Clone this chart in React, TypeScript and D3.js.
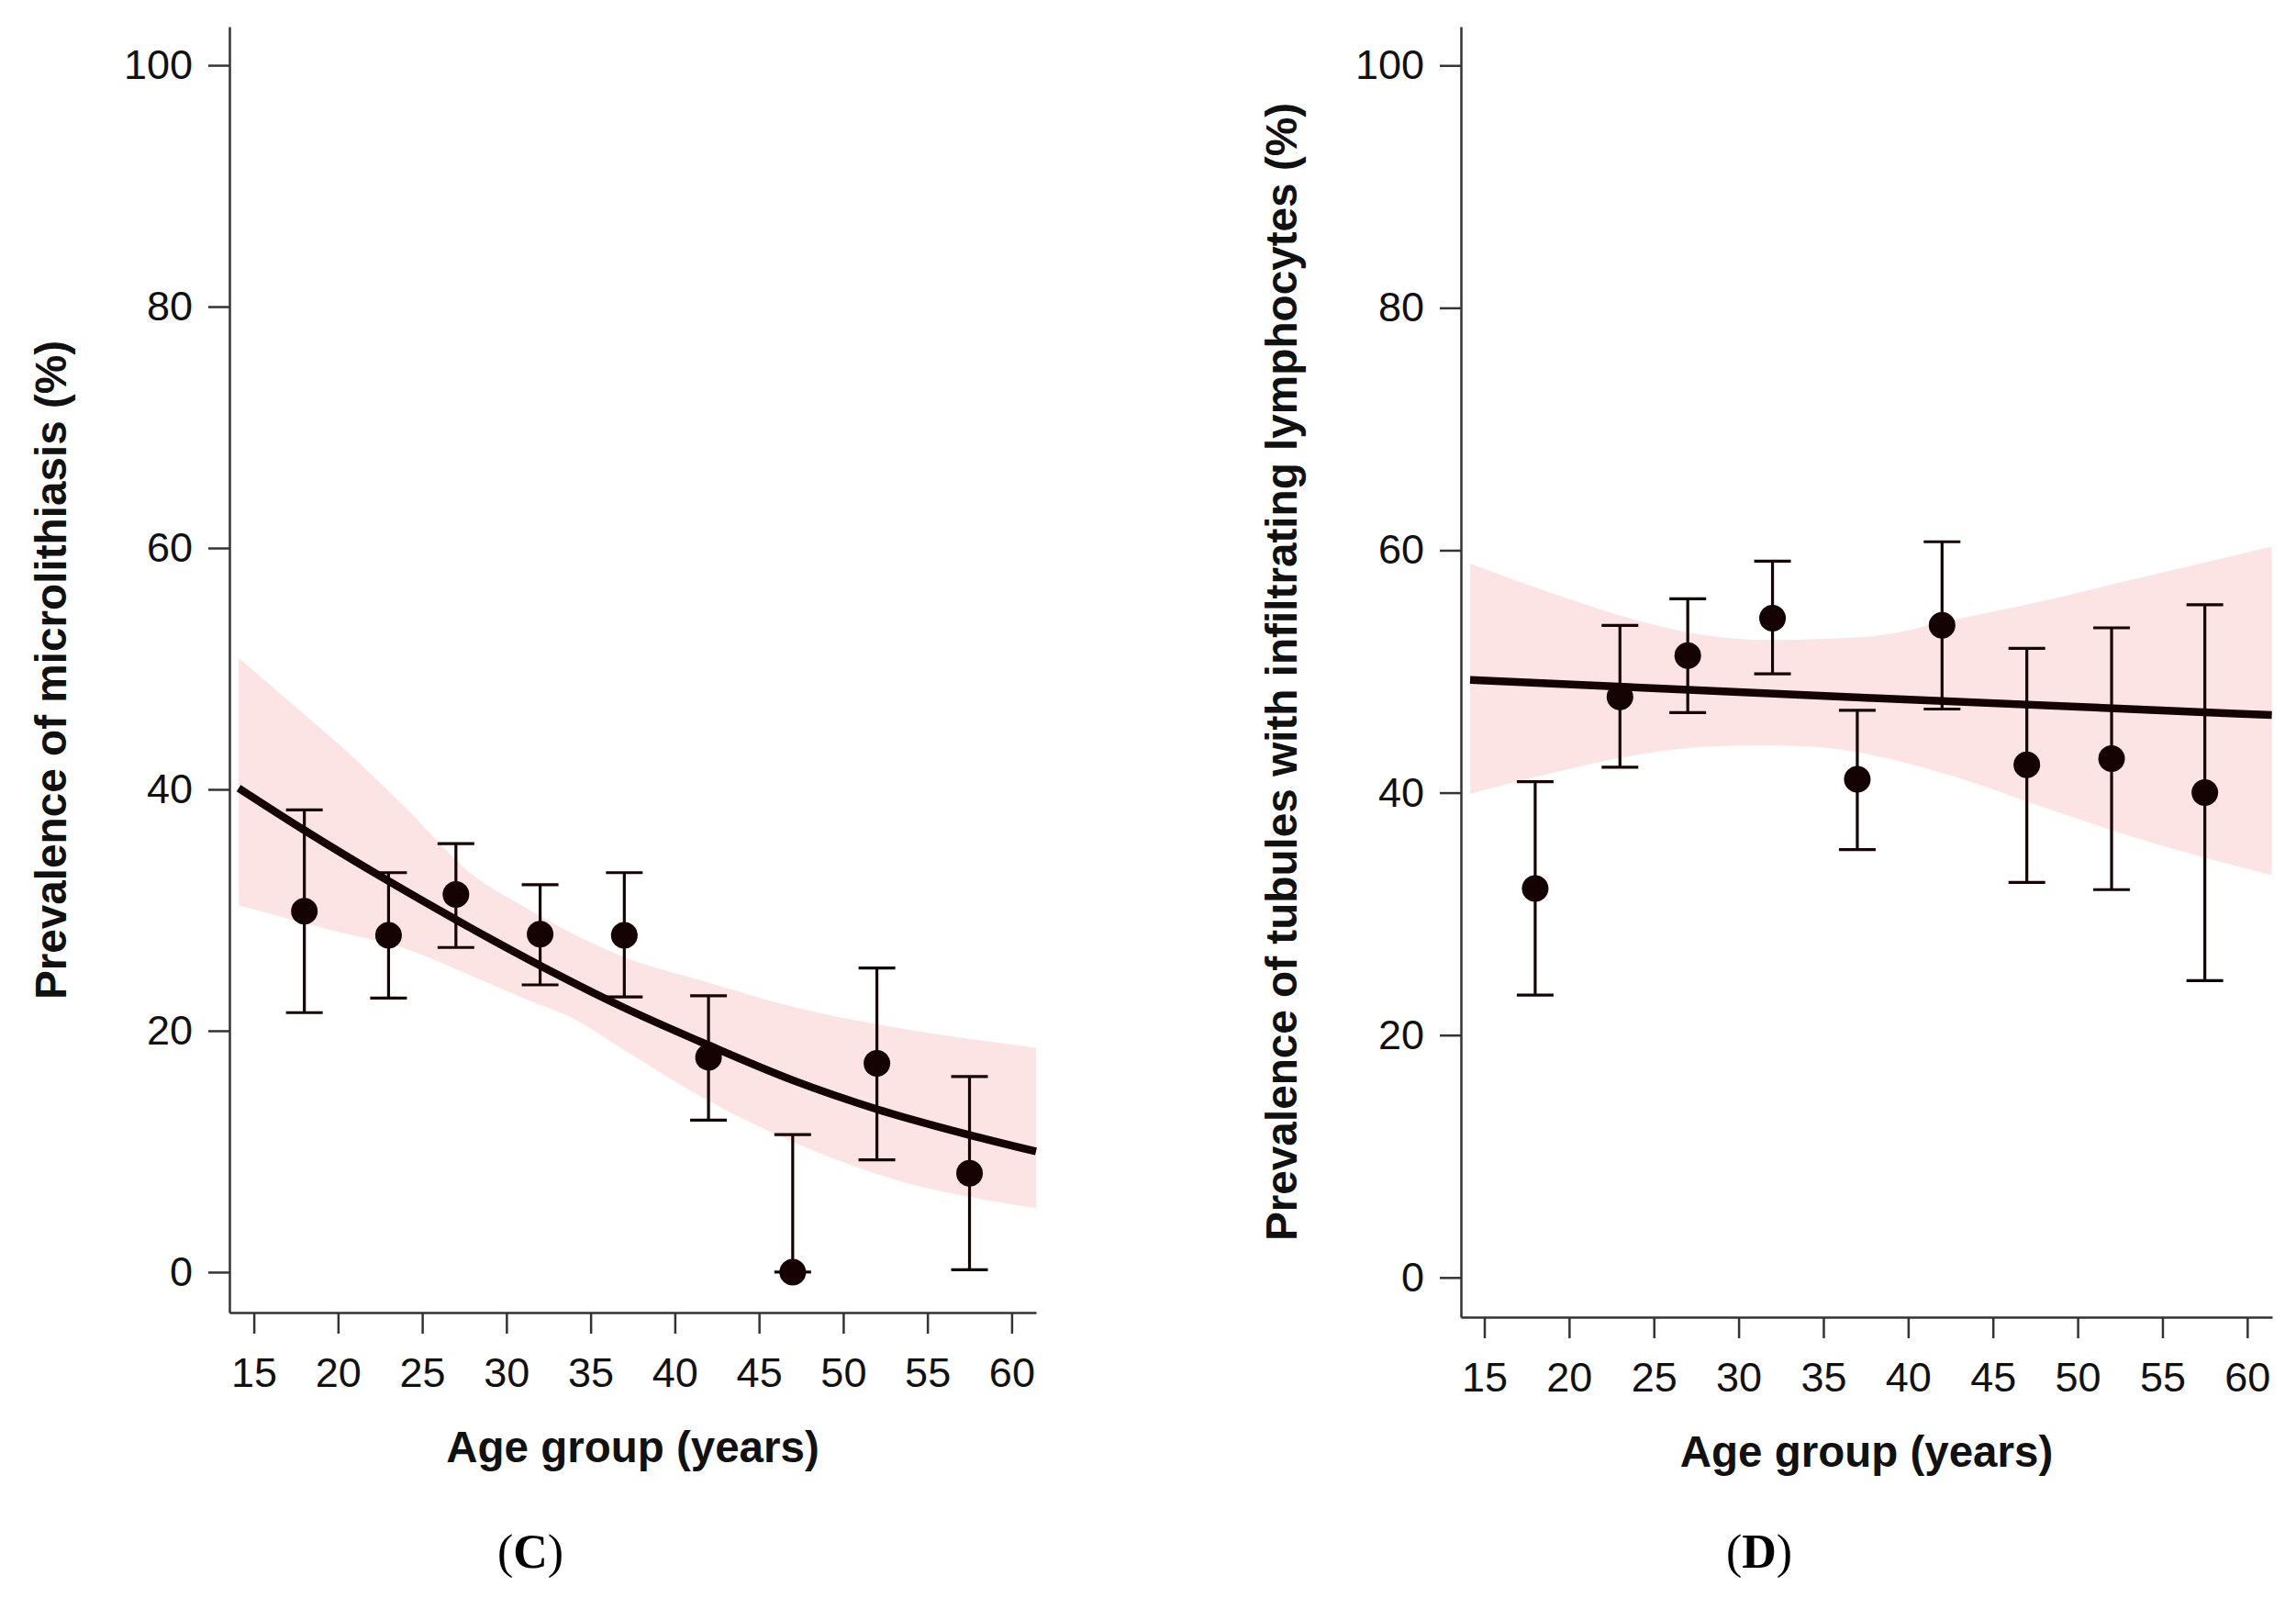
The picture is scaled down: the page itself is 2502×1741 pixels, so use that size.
import React, { useEffect, useRef } from 'react';
import * as d3 from 'd3';

// shared axes
const ageTicks = [15, 20, 25, 30, 35, 40, 45, 50, 55, 60];
const pctTicks = [0, 20, 40, 60, 80, 100];
const groupAges = [18, 23, 27, 32, 37, 42, 47, 52, 57.5];

// (C) microlithiasis
const microPrev = [29.9, 27.9, 31.3, 28.0, 27.9, 17.8, 0, 17.3, 8.2];
const microLo = [21.5, 22.7, 26.9, 23.8, 22.8, 12.6, 0, 9.3, 0.2];
const microHi = [38.3, 33.1, 35.5, 32.1, 33.1, 22.9, 11.4, 25.2, 16.2];
const microFitAges = [14.1, 17.9, 23.0, 27.0, 32.0, 37.0, 42.0, 47.0, 52.0, 57.4, 61.45];
const microFit = [40.1, 36.7, 32.4, 29.2, 25.4, 21.9, 18.8, 15.9, 13.5, 11.4, 10.0];
const microBandAges = [14.1, 17, 20, 24, 28, 31, 34, 37, 42, 47, 53, 61.45];
const microBandHi = [50.9, 47.4, 43.8, 38.5, 32.9, 30.3, 28.0, 26.1, 24.0, 22.0, 20.3, 18.6];
const microBandLo = [30.4, 29.3, 28.2, 26.8, 24.5, 22.7, 21.0, 18.4, 14.2, 10.8, 7.7, 5.3];

// (D) tubules with infiltrating lymphocytes
const lymphPrev = [32.1, 47.9, 51.3, 54.4, 41.1, 53.8, 42.3, 42.8, 40.0];
const lymphLo = [23.3, 42.1, 46.6, 49.8, 35.3, 46.9, 32.6, 32.0, 24.5];
const lymphHi = [40.9, 53.8, 56.0, 59.1, 46.8, 60.7, 51.9, 53.6, 55.5];
const lymphFitAges = [14.16, 37.9, 61.45];
const lymphFit = [49.3, 47.8, 46.4];
const lymphBandAges = [14.16, 18.9, 24.35, 28, 31.6, 35.2, 37.9, 42.8, 48.2, 53.6, 61.45];
const lymphBandHi = [58.9, 56.5, 54.1, 53.0, 52.6, 52.7, 52.9, 54.3, 55.9, 57.7, 60.3];
const lymphBandLo = [39.9, 41.6, 43.2, 43.8, 43.9, 43.7, 43.1, 41.3, 38.7, 36.2, 33.2];

const SANS = '"Liberation Sans", Arial, Helvetica, sans-serif';
const SERIF = '"Liberation Serif", "Times New Roman", serif';
const INK = '#150202';
const BAND = '#fce4e5';

interface PanelCfg {
  left: number;
  right: number;
  top: number;
  bottom: number;
  xDomain: [number, number];
  yDomain: [number, number];
  yTitle: string;
  yTitleX: number;
  yTitleY: number;
  letter: string;
  letterX: number;
  prev: number[];
  lo: number[];
  hi: number[];
  fitAges: number[];
  fit: number[];
  bandAges: number[];
  bandLo: number[];
  bandHi: number[];
}

function drawPanel(svg: d3.Selection<SVGSVGElement, unknown, null, undefined>, c: PanelCfg) {
  const g = svg.append('g');
  const x = d3.scaleLinear().domain(c.xDomain).range([c.left, c.right]);
  const y = d3.scaleLinear().domain(c.yDomain).range([c.bottom, c.top]);

  // confidence band
  const band = c.bandAges.map((a, i) => ({ a, lo: c.bandLo[i], hi: c.bandHi[i] }));
  g.append('path')
    .datum(band)
    .attr('fill', BAND)
    .attr('d', d3.area<{ a: number; lo: number; hi: number }>()
      .x(d => x(d.a))
      .y0(d => y(d.lo))
      .y1(d => y(d.hi))
      .curve(d3.curveMonotoneX));

  // fitted curve
  const fit = c.fitAges.map((a, i) => ({ a, v: c.fit[i] }));
  g.append('path')
    .datum(fit)
    .attr('fill', 'none')
    .attr('stroke', INK)
    .attr('stroke-width', 8.5)
    .attr('d', d3.line<{ a: number; v: number }>()
      .x(d => x(d.a))
      .y(d => y(d.v))
      .curve(d3.curveMonotoneX));

  // axes
  const yAxis = g.append('g')
    .attr('transform', `translate(${c.left},0)`)
    .call(d3.axisLeft(y).tickValues(pctTicks).tickSize(23).tickSizeOuter(0).tickPadding(17));
  const xAxis = g.append('g')
    .attr('transform', `translate(0,${c.bottom})`)
    .call(d3.axisBottom(x).tickValues(ageTicks).tickSize(23).tickSizeOuter(0).tickPadding(26));
  [yAxis, xAxis].forEach(ax => {
    ax.attr('font-family', SANS).attr('font-size', 45);
    ax.select('.domain').attr('stroke', '#333').attr('stroke-width', 2.5);
    ax.selectAll('.tick line').attr('stroke', '#333').attr('stroke-width', 2.5);
    ax.selectAll('.tick text').attr('fill', '#111');
  });

  // error bars + points
  const pts = groupAges.map((a, i) => ({ a, v: c.prev[i], lo: c.lo[i], hi: c.hi[i] }));
  const eb = g.selectAll('.eb').data(pts).enter().append('g').attr('class', 'eb')
    .attr('stroke', INK).attr('stroke-width', 3.2);
  eb.append('line')
    .attr('x1', d => x(d.a)).attr('x2', d => x(d.a))
    .attr('y1', d => y(d.lo)).attr('y2', d => y(d.hi));
  eb.append('line')
    .attr('x1', d => x(d.a) - 20).attr('x2', d => x(d.a) + 20)
    .attr('y1', d => y(d.hi)).attr('y2', d => y(d.hi));
  eb.append('line')
    .attr('x1', d => x(d.a) - 20).attr('x2', d => x(d.a) + 20)
    .attr('y1', d => y(d.lo)).attr('y2', d => y(d.lo));
  g.selectAll('.pt').data(pts).enter().append('circle')
    .attr('class', 'pt')
    .attr('cx', d => x(d.a))
    .attr('cy', d => y(d.v))
    .attr('r', 14.5)
    .attr('fill', INK);

  // titles
  g.append('text')
    .attr('transform', `translate(${c.yTitleX},${c.yTitleY}) rotate(-90)`)
    .attr('text-anchor', 'middle')
    .attr('font-family', SANS)
    .attr('font-weight', 'bold')
    .attr('font-size', 47.7)
    .attr('fill', '#111')
    .text(c.yTitle);
  g.append('text')
    .attr('x', (c.left + c.right) / 2)
    .attr('y', c.bottom + 163)
    .attr('text-anchor', 'middle')
    .attr('font-family', SANS)
    .attr('font-weight', 'bold')
    .attr('font-size', 47.5)
    .attr('fill', '#111')
    .text('Age group (years)');

  const lab = g.append('text')
    .attr('x', c.letterX)
    .attr('y', 1708)
    .attr('text-anchor', 'middle')
    .attr('font-family', SERIF)
    .attr('font-size', 52)
    .attr('fill', '#000');
  lab.append('tspan').text('(');
  lab.append('tspan').attr('font-weight', 'bold').text(c.letter);
  lab.append('tspan').text(')');
}

export default function App() {
  const ref = useRef<SVGSVGElement | null>(null);

  useEffect(() => {
    if (!ref.current) return;
    const svg = d3.select(ref.current);
    svg.selectAll('*').remove();

    svg.append('rect').attr('width', 2502).attr('height', 1741).attr('fill', '#fff');

    drawPanel(svg, {
      left: 250, right: 1129, top: 29, bottom: 1430,
      xDomain: [13.55, 61.45], yDomain: [-3.35, 103.2],
      yTitle: 'Prevalence of microlithiasis (%)', yTitleX: 72, yTitleY: 730,
      letter: 'C', letterX: 578,
      prev: microPrev, lo: microLo, hi: microHi,
      fitAges: microFitAges, fit: microFit,
      bandAges: microBandAges, bandLo: microBandLo, bandHi: microBandHi,
    });
    drawPanel(svg, {
      left: 1592, right: 2476, top: 29, bottom: 1435,
      xDomain: [13.62, 61.47], yDomain: [-3.27, 103.2],
      yTitle: 'Prevalence of tubules with infiltrating lymphocytes (%)', yTitleX: 1413, yTitleY: 732,
      letter: 'D', letterX: 1917,
      prev: lymphPrev, lo: lymphLo, hi: lymphHi,
      fitAges: lymphFitAges, fit: lymphFit,
      bandAges: lymphBandAges, bandLo: lymphBandLo, bandHi: lymphBandHi,
    });
  }, []);

  return (
    <div style={{ position: 'absolute', left: 0, top: 0 }}>
      <svg ref={ref} width={2502} height={1741} style={{ display: 'block' }}></svg>
    </div>
  );
}
